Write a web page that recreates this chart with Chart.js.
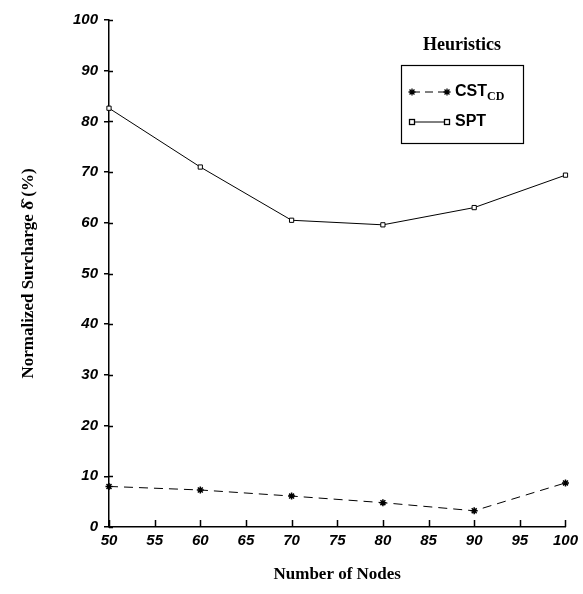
<!DOCTYPE html>
<html>
<head>
<meta charset="utf-8">
<script src="https://cdn.jsdelivr.net/npm/chart.js@4.4.1/dist/chart.umd.min.js"></script>
<style>
  html, body { margin: 0; padding: 0; background: #fff; }
  #wrap { position: relative; width: 583px; height: 594px; }
</style>
</head>
<body>
<div id="wrap"><canvas id="chart" width="583" height="594"></canvas></div>
<script>
// data
const nodes = [50, 60, 70, 80, 90, 100];
const cstValues = [8.0, 7.3, 6.1, 4.8, 3.2, 8.7];
const sptValues = [82.6, 71.0, 60.5, 59.6, 63.0, 69.4];
const xTicks = [50, 55, 60, 65, 70, 75, 80, 85, 90, 95, 100];
const yTicks = [0, 10, 20, 30, 40, 50, 60, 70, 80, 90, 100];

const sansBI = { family: 'Liberation Sans, Arial, sans-serif', size: 15, weight: 'bold', style: 'italic' };
const serifTitle = { family: 'Liberation Serif, Times New Roman, serif', size: 17, weight: 'bold' };

function star(ctx, x, y, r) {
  ctx.beginPath();
  for (let a = 0; a < 4; a++) {
    const t = a * Math.PI / 4;
    ctx.moveTo(x - r * Math.cos(t), y - r * Math.sin(t));
    ctx.lineTo(x + r * Math.cos(t), y + r * Math.sin(t));
  }
  ctx.stroke();
}

function box(ctx, x, y) {
  ctx.fillStyle = '#fff';
  ctx.fillRect(x - 3, y - 3, 6, 6);
  ctx.strokeRect(x - 2.5, y - 2.5, 5, 5);
}

// small tick marks inside the axes, plus the legend box
const extras = {
  id: 'extras',
  afterDraw(chart) {
    const ctx = chart.ctx;
    const xs = chart.scales.x, ys = chart.scales.y;
    ctx.save();
    ctx.strokeStyle = '#000';
    ctx.lineWidth = 1.5;
    ctx.beginPath();
    xTicks.forEach(v => {
      const px = Math.round(xs.getPixelForValue(v)) + 0.5;
      ctx.moveTo(px, ys.bottom);
      ctx.lineTo(px, ys.bottom - 7);
    });
    yTicks.forEach(v => {
      const py = Math.round(ys.getPixelForValue(v)) + 0.5;
      ctx.moveTo(xs.left, py);
      ctx.lineTo(xs.left + 4, py);
    });
    ctx.stroke();

    // legend
    const bx = 401, by = 65, bw = 122, bh = 78;
    ctx.font = 'bold 18px "Liberation Serif", "Times New Roman", serif';
    ctx.fillStyle = '#000';
    ctx.textAlign = 'center';
    ctx.textBaseline = 'middle';
    ctx.fillText('Heuristics', bx + bw / 2, 45);
    ctx.lineWidth = 1.2;
    ctx.strokeRect(bx + 0.5, by + 0.5, bw, bh);

    const rows = [
      { ds: chart.data.datasets[0], y: by + 27 },
      { ds: chart.data.datasets[1], y: by + 57 }
    ];
    rows.forEach((r, i) => {
      const x1 = bx + 11, x2 = bx + 46;
      ctx.save();
      ctx.lineWidth = 1;
      ctx.setLineDash(i === 0 ? [8, 5] : []);
      ctx.beginPath();
      ctx.moveTo(x1, r.y);
      ctx.lineTo(x2, r.y);
      ctx.stroke();
      ctx.restore();
      ctx.lineWidth = 1.3;
      [x1, x2].forEach(px => {
        if (i === 0) star(ctx, px, r.y, 3.5); else box(ctx, px, r.y);
      });
    });
    ctx.fillStyle = '#000';
    ctx.textAlign = 'left';
    ctx.font = 'bold 16px "Liberation Sans", Arial, sans-serif';
    ctx.fillText('CST', bx + 54, rows[0].y);
    const w = ctx.measureText('CST').width;
    ctx.font = 'bold 12px "Liberation Serif", "Times New Roman", serif';
    ctx.fillText('CD', bx + 54 + w, rows[0].y + 5);
    ctx.font = 'bold 16px "Liberation Sans", Arial, sans-serif';
    ctx.fillText('SPT', bx + 54, rows[1].y);
    ctx.restore();
  }
};

new Chart(document.getElementById('chart'), {
  type: 'line',
  data: {
    datasets: [
      {
        label: 'CST_CD',
        data: nodes.map((n, i) => ({ x: n, y: cstValues[i] })),
        borderColor: '#000',
        backgroundColor: '#000',
        borderWidth: 1,
        borderDash: [9, 6],
        pointStyle: 'star',
        pointRadius: 3.5,
        pointBorderWidth: 1.5,
        tension: 0,
        clip: false
      },
      {
        label: 'SPT',
        data: nodes.map((n, i) => ({ x: n, y: sptValues[i] })),
        borderColor: '#000',
        backgroundColor: '#fff',
        borderWidth: 1,
        pointStyle: 'rect',
        pointRadius: 3,
        pointBorderWidth: 1,
        tension: 0,
        clip: false
      }
    ]
  },
  options: {
    responsive: false,
    animation: false,
    layout: { padding: { top: 20, right: 14, left: 0, bottom: 0 } },
    plugins: {
      legend: { display: false },
      tooltip: { enabled: false }
    },
    scales: {
      x: {
        type: 'linear',
        min: 50,
        max: 100,
        afterBuildTicks(scale) { scale.ticks = xTicks.map(v => ({ value: v })); },
        afterFit(scale) { scale.height = 67; },
        grid: { display: false, drawTicks: false },
        border: { display: true, color: '#000', width: 1.5 },
        ticks: { color: '#000', font: sansBI, padding: 5, maxRotation: 0 },
        title: {
          display: true,
          text: 'Number of Nodes',
          color: '#000',
          font: serifTitle,
          padding: { top: 14, bottom: 9 }
        }
      },
      y: {
        min: 0,
        max: 100,
        afterBuildTicks(scale) { scale.ticks = yTicks.map(v => ({ value: v })); },
        afterFit(scale) { scale.width = 109; },
        grid: { drawOnChartArea: false, drawTicks: true, tickLength: 5, color: '#000', lineWidth: 1.5 },
        border: { display: true, color: '#000', width: 1.5 },
        ticks: { color: '#000', font: sansBI, padding: 6 },
        title: {
          display: true,
          text: 'Normalized Surcharge δ\u0302 (%)',
          color: '#000',
          font: serifTitle,
          padding: { top: 18, bottom: 0 }
        }
      }
    }
  },
  plugins: [extras]
});
</script>
</body>
</html>
